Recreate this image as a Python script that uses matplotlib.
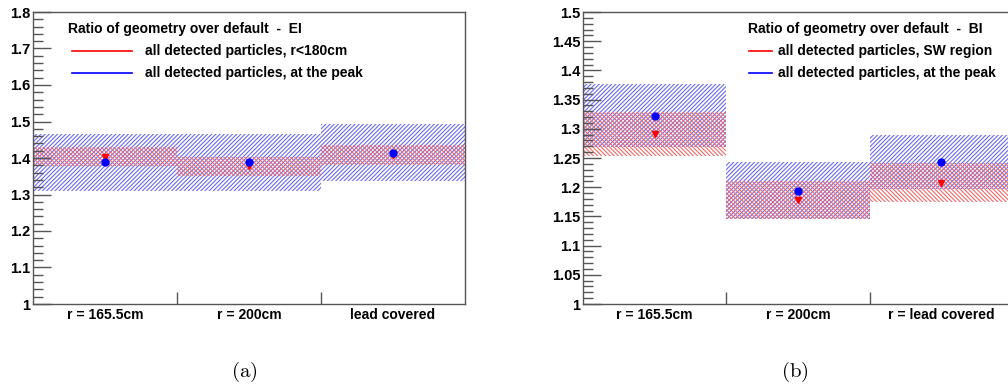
import numpy as np
import matplotlib
matplotlib.use("Agg")
import matplotlib.pyplot as plt
from matplotlib.ticker import MultipleLocator, FixedLocator

# bins
labels_a = ["r = 165.5cm", "r = 200cm", "lead covered"]
labels_b = ["r = 165.5cm", "r = 200cm", "r = lead covered"]

# (a) EI
ei_peak = [1.388, 1.388, 1.415]
ei_peak_err = [0.078, 0.078, 0.079]
ei_r180 = [1.404, 1.377, 1.408]
ei_r180_err = [0.027, 0.027, 0.028]

# (b) BI
bi_peak = [1.322, 1.194, 1.243]
bi_peak_err = [0.054, 0.049, 0.046]
bi_sw = [1.291, 1.178, 1.208]
bi_sw_err = [0.038, 0.033, 0.034]

plt.rcParams['font.family'] = ['Liberation Sans', 'DejaVu Sans']
plt.rcParams['hatch.linewidth'] = 0.8
plt.rcParams['mathtext.fontset'] = 'cm'

RED = '#f06a6a'
BLUE = '#6a6af0'
FRAME = '#555555'

fig = plt.figure(figsize=(10.08, 3.89), dpi=100)
H = 389.0
W = 1008.0
ax_a = fig.add_axes([33 / W, 1 - 304 / H, 432 / W, 292 / H])
ax_b = fig.add_axes([583 / W, 1 - 304 / H, 430 / W, 292 / H])


def panel(ax, labels, peak, peak_err, other, other_err, ylim, major, minor,
          title, other_label, tx, lx0, lx1, ltx):
    x = np.arange(len(labels))
    ax.bar(x, 2 * np.array(peak_err), bottom=np.array(peak) - np.array(peak_err),
           width=1.0, fill=False, hatch='/' * 8, edgecolor=BLUE, linewidth=0)
    ax.bar(x, 2 * np.array(other_err), bottom=np.array(other) - np.array(other_err),
           width=1.0, fill=False, hatch='\\' * 8, edgecolor=RED, linewidth=0)
    ax.plot(x, other, 'v', color='red', markersize=5, zorder=5)
    ax.plot(x, peak, 'o', color='blue', markersize=5, zorder=6)

    ax.set_xlim(-0.5, len(labels) - 0.5)
    ax.set_ylim(*ylim)
    ax.yaxis.set_major_locator(MultipleLocator(major))
    ax.yaxis.set_minor_locator(MultipleLocator(minor))
    ax.yaxis.set_major_formatter(matplotlib.ticker.FuncFormatter(lambda v, p: '%g' % round(v, 3)))
    ax.set_xticks(x)
    ax.set_xticklabels(labels, fontweight='bold', fontsize=10)
    ax.xaxis.set_minor_locator(FixedLocator(x[:-1] + 0.5))
    ax.tick_params(axis='x', which='major', length=0, pad=3)
    ax.tick_params(axis='x', which='minor', direction='in', length=9, color=FRAME, width=1)
    ax.tick_params(axis='y', which='major', direction='in', length=13, color=FRAME,
                   width=1, labelsize=10.5, pad=2)
    ax.tick_params(axis='y', which='minor', direction='in', length=7, color=FRAME, width=1)
    for lab in ax.get_yticklabels():
        lab.set_fontweight('bold')
    for s in ax.spines.values():
        s.set_color(FRAME)
        s.set_linewidth(1)

    # legend box
    ax.text(tx, 0.942, title, transform=ax.transAxes, fontsize=10,
            fontweight='bold', va='center', ha='left')
    ax.plot([lx0, lx1], [0.866, 0.866], color='red', lw=1.2, transform=ax.transAxes)
    ax.plot([lx0, lx1], [0.791, 0.791], color='blue', lw=1.2, transform=ax.transAxes)
    ax.text(ltx, 0.866, other_label, transform=ax.transAxes, fontsize=10,
            fontweight='bold', va='center', ha='left')
    ax.text(ltx, 0.791, 'all detected particles, at the peak', transform=ax.transAxes,
            fontsize=10, fontweight='bold', va='center', ha='left')


panel(ax_a, labels_a, ei_peak, ei_peak_err, ei_r180, ei_r180_err, (1.0, 1.8), 0.1, 0.02,
      'Ratio of geometry over default  -  EI', 'all detected particles, r<180cm',
      0.081, 0.090, 0.229, 0.259)
panel(ax_b, labels_b, bi_peak, bi_peak_err, bi_sw, bi_sw_err, (1.0, 1.5), 0.05, 0.01,
      'Ratio of geometry over default  -  BI', 'all detected particles, SW region',
      0.384, 0.386, 0.439, 0.453)

fig.text(244 / W, 1 - 372 / H, r'$\mathrm{(a)}$', fontsize=15, ha='center', va='center')
fig.text(795 / W, 1 - 372 / H, r'$\mathrm{(b)}$', fontsize=15, ha='center', va='center')

fig.savefig('out.png', dpi=100)
